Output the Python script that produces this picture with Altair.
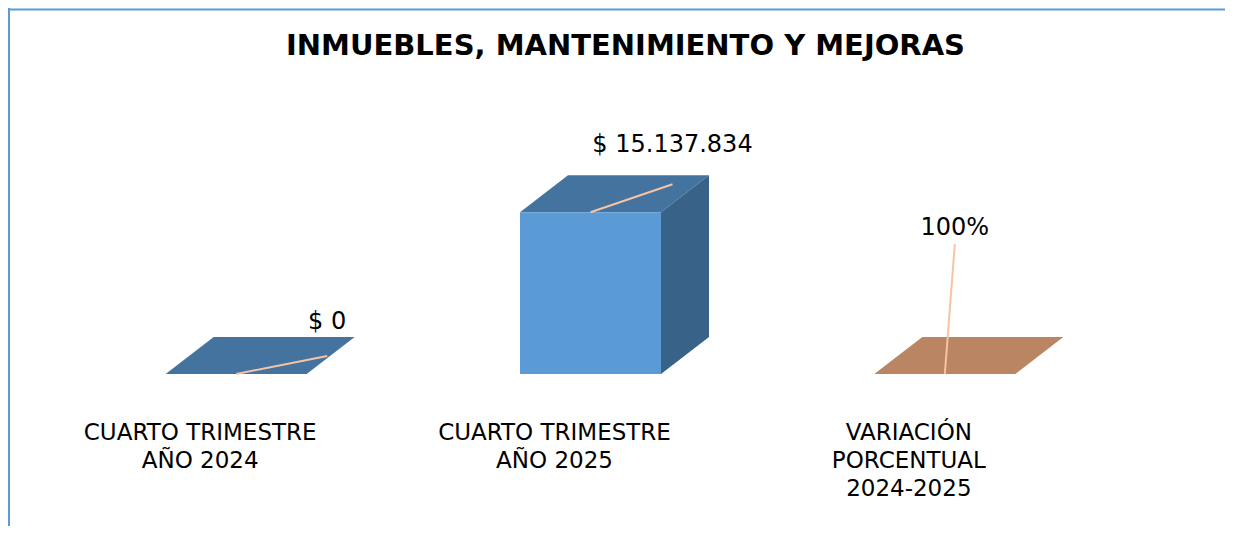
import altair as alt
import pandas as pd

# ---------------- data ----------------
CATEGORIES = ["CUARTO TRIMESTRE\nAÑO 2024", "CUARTO TRIMESTRE\nAÑO 2025", "VARIACIÓN\nPORCENTUAL\n2024-2025"]
VALUES = [0, 15137834, 1]
VALUE_LABELS = ["$ 0", "$ 15.137.834", "100%"]
TITLE = "INMUEBLES, MANTENIMIENTO Y MEJORAS"

# ---------------- styles ----------------
FRONT_COLORS = ["#5B9BD5", "#5B9BD5", "#D29A72"]
TOP_COLORS = ["#45739F", "#45739F", "#B98563"]
SIDE_COLORS = ["#386287", "#386287", "#9B6E50"]
LEADER_COLOR = "#F6C4A2"
BORDER_COLOR = "#5B9BD5"
FONT = "DejaVu Sans"

W, H = 1217, 518
X_DOMAIN = [-0.5, 2.5]
X_RANGE = [51, 1114]
Y_DOMAIN = [0, 16000000]
Y_RANGE = [366, 195]

BAR_PX = 141
DEPTH_X_PX = 48
DEPTH_Y_PX = 37
LEADER_END_PX = [(91, 18), (82, 28), (10, 130)]
LABEL_PX = [(91, 45), (82, 60), (10, 139)]
CAT_DX = -36

ux = (X_DOMAIN[1] - X_DOMAIN[0]) / (X_RANGE[1] - X_RANGE[0])
uy = (Y_DOMAIN[1] - Y_DOMAIN[0]) / (Y_RANGE[0] - Y_RANGE[1])
hw = BAR_PX / 2 * ux
ddx = DEPTH_X_PX * ux
ddy = DEPTH_Y_PX * uy

xs = alt.Scale(domain=X_DOMAIN, range=X_RANGE)
ys = alt.Scale(domain=Y_DOMAIN, range=Y_RANGE)

front, top, side, leaders, labels, cats = [], [], [], [], [], []
for i, v in enumerate(VALUES):
    front.append({"bar": i, "x": i - hw, "x2": i + hw, "y": 0, "y2": v, "c": FRONT_COLORS[i]})
    top.append({"bar": i, "y": v, "x": i - hw, "x2": i + hw, "c": TOP_COLORS[i]})
    top.append({"bar": i, "y": v + ddy, "x": i - hw + ddx, "x2": i + hw + ddx, "c": TOP_COLORS[i]})
    side.append({"bar": i, "x": i + hw, "y": 0, "y2": v, "c": SIDE_COLORS[i]})
    side.append({"bar": i, "x": i + hw + ddx, "y": ddy, "y2": v + ddy, "c": SIDE_COLORS[i]})
    ex, ey = LEADER_END_PX[i]
    leaders.append({"x": i, "y": v, "x2": i + ex * ux, "y2": v + ey * uy})
    lx, ly = LABEL_PX[i]
    labels.append({"x": i + lx * ux, "y": v + ly * uy, "t": VALUE_LABELS[i]})
    cats.append({"x": i, "t": CATEGORIES[i].split("\n")})

front_df = pd.DataFrame(front)
top_df = pd.DataFrame(top)
side_df = pd.DataFrame(side)
lead_df = pd.DataFrame(leaders)
lab_df = pd.DataFrame(labels)
cat_df = pd.DataFrame(cats)
one = pd.DataFrame({"k": [0]})

top_layer = alt.Chart(top_df).mark_area(orient="horizontal").encode(
    y=alt.Y("y:Q", scale=ys, axis=None),
    x=alt.X("x:Q", scale=xs, axis=None, stack=None),
    x2="x2:Q",
    detail="bar:N",
    color=alt.Color("c:N", scale=None),
)

side_layer = alt.Chart(side_df).mark_area(orient="vertical").encode(
    x=alt.X("x:Q", scale=xs, axis=None),
    y=alt.Y("y:Q", scale=ys, axis=None, stack=None),
    y2="y2:Q",
    detail="bar:N",
    color=alt.Color("c:N", scale=None),
)

front_layer = alt.Chart(front_df).mark_rect().encode(
    x=alt.X("x:Q", scale=xs, axis=None),
    x2="x2:Q",
    y=alt.Y("y:Q", scale=ys, axis=None),
    y2="y2:Q",
    color=alt.Color("c:N", scale=None),
)

lead_layer = alt.Chart(lead_df).mark_rule(color=LEADER_COLOR, strokeWidth=2).encode(
    x=alt.X("x:Q", scale=xs, axis=None),
    y=alt.Y("y:Q", scale=ys, axis=None),
    x2="x2:Q",
    y2="y2:Q",
)

lab_layer = alt.Chart(lab_df).mark_text(
    font=FONT, fontSize=24, color="#000000", align="center", baseline="alphabetic"
).encode(
    x=alt.X("x:Q", scale=xs, axis=None),
    y=alt.Y("y:Q", scale=ys, axis=None),
    text="t:N",
)

cat_layer = alt.Chart(cat_df).mark_text(
    font=FONT, fontSize=23, color="#000000", align="center", baseline="alphabetic",
    lineHeight=28, dx=CAT_DX
).encode(
    x=alt.X("x:Q", scale=xs, axis=None),
    y=alt.value(431.5),
    text="t",
)

title_layer = alt.Chart(one).mark_text(
    text=TITLE, font=FONT, fontSize=29, fontWeight="bold", color="#000000",
    align="center", baseline="alphabetic"
).encode(x=alt.value(617.5), y=alt.value(46.5))

border_top = alt.Chart(one).mark_rule(color=BORDER_COLOR, strokeWidth=2).encode(
    x=alt.value(0), x2=alt.value(W), y=alt.value(1.5)
)
border_left = alt.Chart(one).mark_rule(color=BORDER_COLOR, strokeWidth=2).encode(
    x=alt.value(1), y=alt.value(0), y2=alt.value(H)
)

chart = alt.layer(
    border_top, border_left, top_layer, side_layer, front_layer,
    lead_layer, lab_layer, cat_layer, title_layer
).properties(
    width=W, height=H, padding=0,
    autosize=alt.AutoSizeParams(type="none"),
    background="#FFFFFF",
).configure_view(stroke=None)

chart.save("out.html", embed_options={"renderer": "svg", "actions": False})
